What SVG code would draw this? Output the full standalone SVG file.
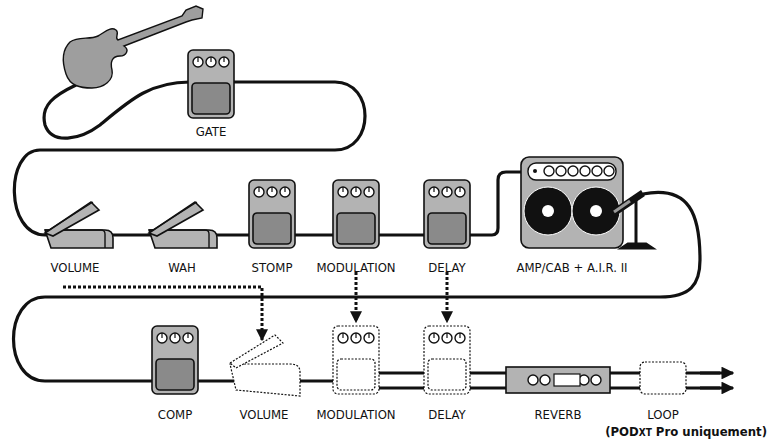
<svg xmlns="http://www.w3.org/2000/svg" width="770" height="445" viewBox="0 0 770 445">
<style>
.cable{fill:none;stroke:#111;stroke-width:3.2}
.dot{fill:none;stroke:#111;stroke-width:3;stroke-dasharray:3 2}
.ped{fill:#b3b3b3;stroke:#111;stroke-width:1.6}
.sw{fill:#8a8a8a;stroke:#111;stroke-width:1.6}
.knob{fill:#fff;stroke:#111;stroke-width:1.4}
.ghost{fill:#fff;stroke:#111;stroke-width:1.2;stroke-dasharray:2 1.5}
.lbl{font-family:"DejaVu Sans",sans-serif;font-stretch:condensed;font-size:13px;fill:#111;text-anchor:middle}
</style>
<defs>
<marker id="ah" viewBox="0 0 10 10" refX="9" refY="5" markerWidth="4" markerHeight="4" orient="auto"><path d="M0,0L10,5L0,10z" fill="#111"/></marker>
<g id="stomp">
<rect x="0" y="0" width="46" height="68" rx="5" class="ped"/>
<circle cx="10" cy="12" r="5" class="knob"/><circle cx="23" cy="12" r="5" class="knob"/><circle cx="36" cy="12" r="5" class="knob"/>
<path d="M10,12V7M23,12V7M36,12V7" stroke="#111" stroke-width="1.2"/>
<rect x="4" y="33" width="38" height="31" rx="4" class="sw"/>
</g>
<g id="ghoststomp">
<rect x="0" y="0" width="46" height="68" rx="5" class="ghost"/>
<circle cx="10" cy="12" r="5" class="knob"/><circle cx="23" cy="12" r="5" class="knob"/><circle cx="36" cy="12" r="5" class="knob"/>
<path d="M10,12V7M23,12V7M36,12V7" stroke="#111" stroke-width="1.2"/>
<rect x="4" y="33" width="38" height="31" rx="4" class="ghost"/>
</g>
<g id="expr">
<path d="M2,30L62,30Q70,30 70,38L70,48L8,48Z" class="ped" fill="#c8c8c8"/>
<path d="M2,30L58,30Q62,30 62,34L62,48" fill="none" stroke="#111" stroke-width="1.4"/>
<path d="M2,33L48,2L56,10L10,36Z" class="ped"/>
<path d="M6,30L50,2" stroke="#111" stroke-width="1.2"/>
</g>
</defs>
<g id="connectors">
<path class="cable" d="M76,85C55,95 40,105 45,125C52,145 80,140 100,125C130,100 150,82 190,82H335C375,82 375,150 335,150H40C5,150 5,235 45,235H470"/>
<path class="cable" d="M470,235H492Q498,235 498,228V180Q498,172 506,172H535"/>
<path class="cable" d="M643,194C690,185 700,215 700,260C700,285 690,297 660,297H45C3,297 3,381 45,381H335"/>
<path class="cable" d="M378,373H720M378,388H720"/>
<path class="dot" d="M63,287H262V340" marker-end="url(#ah)"/>
<path class="dot" d="M356,272V322" marker-end="url(#ah)"/>
<path class="dot" d="M447,272V322" marker-end="url(#ah)"/>
<path d="M700,373H733" stroke="#111" stroke-width="3.2" marker-end="url(#ah)"/>
<path d="M700,388H733" stroke="#111" stroke-width="3.2" marker-end="url(#ah)"/>
</g>
<g id="guitar"><path d="M70,42C78,36 90,40 98,36C104,33 110,26 116,30C120,33 114,38 118,40L182,16L186,10L196,6L203,9L202,18L192,20L186,22L124,46C130,50 126,56 120,56C112,56 110,62 112,70C114,80 104,88 92,88C80,88 70,86 66,74C62,62 62,50 70,42Z" fill="#9e9e9e" stroke="#111" stroke-width="1.4"/></g>
<g id="gate"><use href="#stomp" x="188" y="50"/><text class="lbl" x="211" y="136">GATE</text></g>
<g id="volume"><use href="#expr" x="43" y="200"/><text class="lbl" x="75" y="272">VOLUME</text></g>
<g id="wah"><use href="#expr" x="147" y="200"/><text class="lbl" x="182" y="272">WAH</text></g>
<g id="stompn"><use href="#stomp" x="249" y="180"/><text class="lbl" x="272" y="272">STOMP</text></g>
<g id="mod"><use href="#stomp" x="333" y="180"/><text class="lbl" x="356" y="272">MODULATION</text></g>
<g id="delay"><use href="#stomp" x="424" y="180"/><text class="lbl" x="447" y="272">DELAY</text></g>
<g id="amp">
<rect x="521" y="157" width="102" height="91" rx="8" class="ped"/>
<rect x="528" y="163" width="88" height="17" rx="8" fill="#fff" stroke="#111" stroke-width="1.4"/>
<circle cx="535" cy="171" r="2" fill="#111"/>
<g class="knob"><circle cx="549" cy="171" r="5"/><circle cx="561" cy="171" r="5"/><circle cx="573" cy="171" r="5"/><circle cx="585" cy="171" r="5"/><circle cx="597" cy="171" r="5"/><circle cx="609" cy="171" r="5"/></g>
<circle cx="548" cy="211" r="24" fill="#111" stroke="#fff" stroke-width="1"/><circle cx="548" cy="211" r="6" fill="#fff"/>
<circle cx="596" cy="211" r="24" fill="#111" stroke="#fff" stroke-width="1"/><circle cx="596" cy="211" r="6" fill="#fff"/>
<path d="M636,196V244M622,248L628,244H646L652,248Z" stroke="#111" stroke-width="3" fill="#111"/>
<path d="M612,214L643,193" stroke="#111" stroke-width="7"/><path d="M614,212L630,201" stroke="#999" stroke-width="3"/>
<text class="lbl" x="572" y="272">AMP/CAB + A.I.R. II</text>
</g>
<g id="comp"><use href="#stomp" x="152" y="326"/><text class="lbl" x="175" y="419">COMP</text></g>
<g id="volume2">
<path d="M230,364L290,364Q300,364 300,372L300,396L236,390Z" class="ghost"/>
<path d="M230,363L275,335L283,343L236,368Z" class="ghost"/>
<text class="lbl" x="264" y="419">VOLUME</text></g>
<g id="mod2"><use href="#ghoststomp" x="333" y="326"/><text class="lbl" x="356" y="419">MODULATION</text></g>
<g id="delay2"><use href="#ghoststomp" x="424" y="326"/><text class="lbl" x="447" y="419">DELAY</text></g>
<g id="reverb">
<rect x="506" y="367" width="104" height="26" class="ped"/>
<g class="knob"><circle cx="533" cy="380" r="5"/><circle cx="545" cy="380" r="5"/><circle cx="584" cy="380" r="5"/><circle cx="596" cy="380" r="5"/></g>
<rect x="554" y="374" width="26" height="12" fill="#fff" stroke="#111" stroke-width="1.2"/>
<text class="lbl" x="558" y="419">REVERB</text></g>
<g id="loop"><rect x="640" y="362" width="46" height="32" rx="5" class="ghost"/>
<text class="lbl" x="663" y="419">LOOP</text>
<text class="lbl" x="767" y="436" font-weight="bold" style="text-anchor:end">(POD<tspan font-size="10">XT</tspan> Pro uniquement)</text></g>
</svg>
